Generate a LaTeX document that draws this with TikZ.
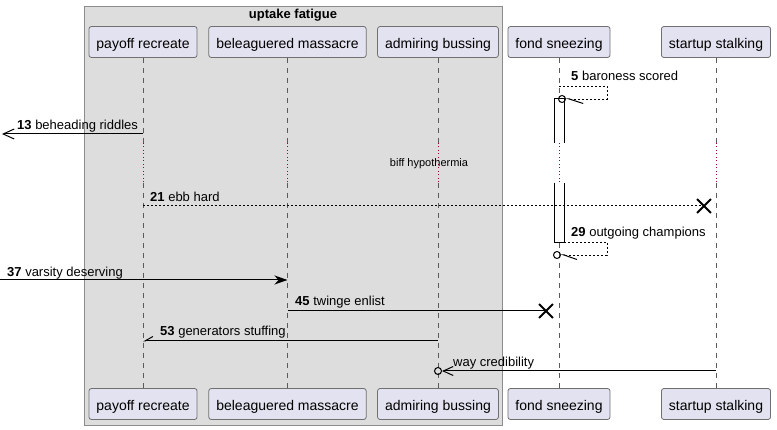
\documentclass[tikz,border=0pt]{standalone}
\usepackage{fontspec}
\setmainfont{Liberation Sans}
\setsansfont{Liberation Sans}
\usetikzlibrary{arrows.meta, shapes.misc}
\definecolor{partfill}{HTML}{E2E2F0}
\definecolor{partdraw}{HTML}{707070}
\definecolor{grpfill}{HTML}{DDDDDD}
\definecolor{grpdraw}{HTML}{8C8C8C}
\definecolor{lifedraw}{HTML}{5A5A5A}
\definecolor{delaydraw}{HTML}{A80036}
\tikzset{ p/.style = { rectangle
                     , draw            = partdraw
                     , fill            = partfill
                     , line width      = 0.8pt
                     , rounded corners = 2.5pt
                     , minimum height  = 31pt
                     , inner xsep      = 7.5pt
                     , text height     = 12.6pt
                     , text depth      = 0pt
                     , font            = \sffamily\fontsize{14}{16}\selectfont
                     },
          lbl/.style = { anchor    = base west
                       , inner sep = 0pt
                       , font      = \sffamily\fontsize{13}{15}\selectfont
                       },
          life/.style = { draw = lifedraw
                        , line width   = 0.6pt
                        , dash pattern = on 5pt off 5pt
                        },
          delay/.style = { draw = delaydraw
                         , line width   = 0.6pt
                         , dash pattern = on 1pt off 2.5pt
                         },
          msg/.style = { draw = black
                       , line width = 1pt
                       },
          dots/.style = { msg
                        , dash pattern = on 2pt off 2pt
                        },
          selfmsg/.style = { draw = black
                           , line width   = 0.6pt
                           , dash pattern = on 2pt off 2pt
                           },
          xmark/.style = { cross out
                         , draw         = black
                         , solid
                         , line width   = 1.8pt
                         , minimum size = 12pt
                         , inner sep    = 0pt
                         },
          ring/.style = { circle
                        , draw         = black
                        , solid
                        , line width   = 1pt
                        , minimum size = 7pt
                        , inner sep    = 0pt
                        },
          act/.style = { draw = black
                       , fill = white
                       , line width = 1pt
                       }
        }

\begin{document}
\begin{tikzpicture}[font=\sffamily, x=1pt, y=-1pt]
  \useasboundingbox (0,0) rectangle (777,430);
  % group box
  \draw[draw=grpdraw, fill=grpfill, line width=0.8pt] (84,6) rectangle (502,425);
  \node[font=\sffamily\fontsize{13}{15}\selectfont\bfseries, anchor=base] (grp) at (293,19) {uptake fatigue};
  % participants
  \foreach \n/\x/\txt in {pr/143/payoff recreate, bm/287.5/beleaguered massacre,
                          ab/438/admiring bussing, fs/559/fond sneezing, ss/716/startup stalking} {
    \node[p] (\n-t) at (\x,42)  {\txt};
    \node[p] (\n-b) at (\x,404) {\txt};
  }
  % lifelines, broken by the delay
  \foreach \n in {pr,bm,ab,fs,ss} {
    \draw[life]  (\n-t.south) -- (\n-t.south |- 0,143);
    \draw[delay] (\n-t.south |- 0,143) -- (\n-t.south |- 0,183);
    \draw[life]  (\n-t.south |- 0,183) -- (\n-b.north);
  }
  % activation of fond sneezing
  \draw[act] (554,143) -- (554,99) -- (564,99) -- (564,143);
  \draw[act] (554,183) -- (554,243) -- (564,243) -- (564,183);

  % 5
  \coordinate (fs5) at (fs-t.south |- 0,86);
  \node[ring] (r5) at (562,99) {};
  \draw[selfmsg, -{Straight Barb[harpoon, line width=1pt, length=14pt, width=9pt]}]
    (fs5) -- ++(48,0) |- (r5);
  \node[lbl] (t5) at (571,81) {\textbf{5} baroness scored};
  % 13
  \coordinate (pr13) at (pr-t.south |- 0,134);
  \coordinate (w13) at (2,134);
  \draw[msg, -{Straight Barb[length=11pt, width=10pt]}] (pr13) -- (w13);
  \node[lbl] (t13) at (17,130) {\textbf{13} beheading riddles};
  % delay
  \node[font=\sffamily\fontsize{11}{13}\selectfont] (dly) at (429,164) {biff hypothermia};
  % 21
  \coordinate (pr21) at (pr-t.south |- 0,206);
  \draw[dots] (pr21) -- (704,206) node[xmark] (x21) {};
  \node[lbl] (t21) at (150,202) {\textbf{21} ebb hard};
  % 29
  \coordinate (fs29) at (564,242);
  \node[ring] (r29) at (557,255) {};
  \draw[selfmsg, -{Straight Barb[harpoon, line width=1pt, length=13pt, width=9pt]}]
    (fs29) -- ++(43,0) |- (r29);
  \node[lbl] (t29) at (571,237) {\textbf{29} outgoing champions};
  % 37
  \coordinate (w37) at (0,280);
  \coordinate (bm37) at (bm-t.south |- 0,280);
  \draw[msg, -{Stealth[length=13pt, width=9pt, inset=4pt]}] (w37) -- (bm37);
  \node[lbl] (t37) at (7,277) {\textbf{37} varsity deserving};
  % 45
  \coordinate (bm45) at (bm-t.south |- 0,311);
  \draw[msg] (bm45) -- (546,311) node[xmark] (x45) {};
  \node[lbl] (t45) at (295,306) {\textbf{45} twinge enlist};
  % 53
  \coordinate (ab53) at (ab-t.south |- 0,341);
  \coordinate (pr53) at (pr-t.south |- 0,341);
  \draw[msg, -{Straight Barb[harpoon, swap, length=8pt, width=9pt]}] (ab53) -- (pr53);
  \node[lbl] (t53) at (160,336) {\textbf{53} generators stuffing};
  % way credibility
  \coordinate (ss61) at (ss-t.south |- 0,371);
  \node[ring] (r61) at (ab-t.south |- 0,371) {};
  \draw[msg, -{Straight Barb[length=10pt, width=9pt]}] (ss61) -- (r61);
  \node[lbl] (t61) at (453,367) {way credibility};
\end{tikzpicture}
\end{document}
